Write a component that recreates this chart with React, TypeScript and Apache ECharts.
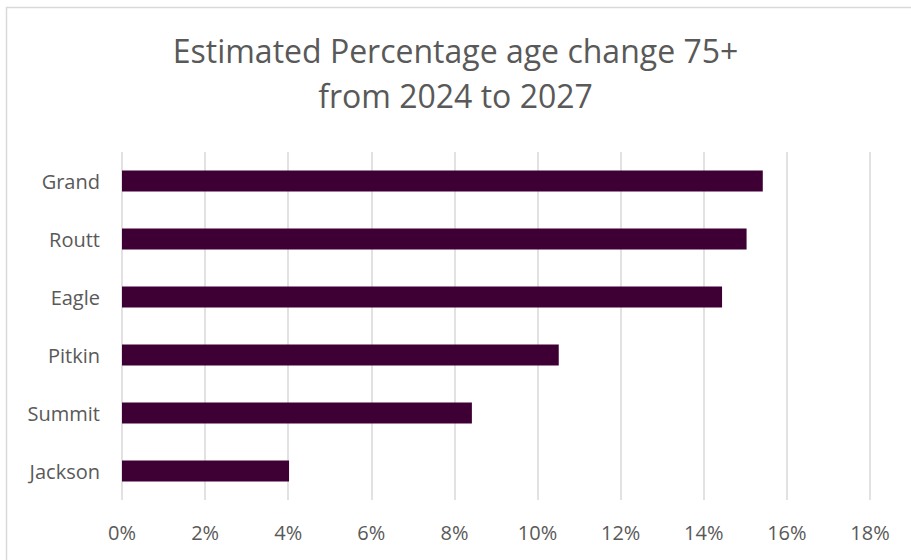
import React, { useEffect, useRef } from "react";
import * as echarts from "echarts";

const categories = ["Grand", "Routt", "Eagle", "Pitkin", "Summit", "Jackson"];
const values = [15.42, 15.03, 14.44, 10.51, 8.42, 4.02];
const xTicks = { min: 0, max: 18, interval: 2 };
const titleLines = ["Estimated Percentage age change 75+", "from 2024 to 2027"];

export default function App() {
  const ref = useRef<HTMLDivElement>(null);
  useEffect(() => {
    if (!ref.current) return;
    const chart = echarts.init(ref.current, null, { renderer: "svg" });
    const font = "'Open Sans', sans-serif";
    chart.setOption({
      animation: false,
      backgroundColor: "#ffffff",
      title: {
        text: titleLines.join("\n"),
        left: "center",
        top: 23,
        textStyle: {
          fontFamily: font,
          fontSize: 32,
          fontWeight: "normal",
          color: "#595959",
          lineHeight: 45,
        },
      },
      graphic: [
        {
          type: "rect",
          shape: { x: 6.5, y: 7.5, width: 940, height: 600 },
          style: { fill: "none", stroke: "#d9d9d9", lineWidth: 1.5 },
          silent: true,
        },
      ],
      grid: { left: 122, right: 41, top: 152, bottom: 60, containLabel: false },
      xAxis: {
        type: "value",
        min: xTicks.min,
        max: xTicks.max,
        interval: xTicks.interval,
        axisLine: { show: false },
        axisTick: { show: false },
        axisLabel: {
          formatter: (v: number) => `${v}%`,
          fontFamily: font,
          fontSize: 20,
          color: "#595959",
          margin: 22,
        },
        splitLine: { show: true, lineStyle: { color: "#d9d9d9", width: 1.5 } },
      },
      yAxis: {
        type: "category",
        data: categories,
        inverse: true,
        axisLine: { show: false },
        axisTick: { show: false },
        axisLabel: {
          fontFamily: font,
          fontSize: 20,
          color: "#595959",
          margin: 22,
        },
      },
      series: [
        {
          type: "bar",
          data: values,
          barWidth: "36%",
          itemStyle: { color: "#3E0034" },
        },
      ],
    });
    return () => chart.dispose();
  }, []);
  return (
    <div
      ref={ref}
      style={{ position: "absolute", left: 0, top: 0, width: 911, height: 560 }}
    />
  );
}
